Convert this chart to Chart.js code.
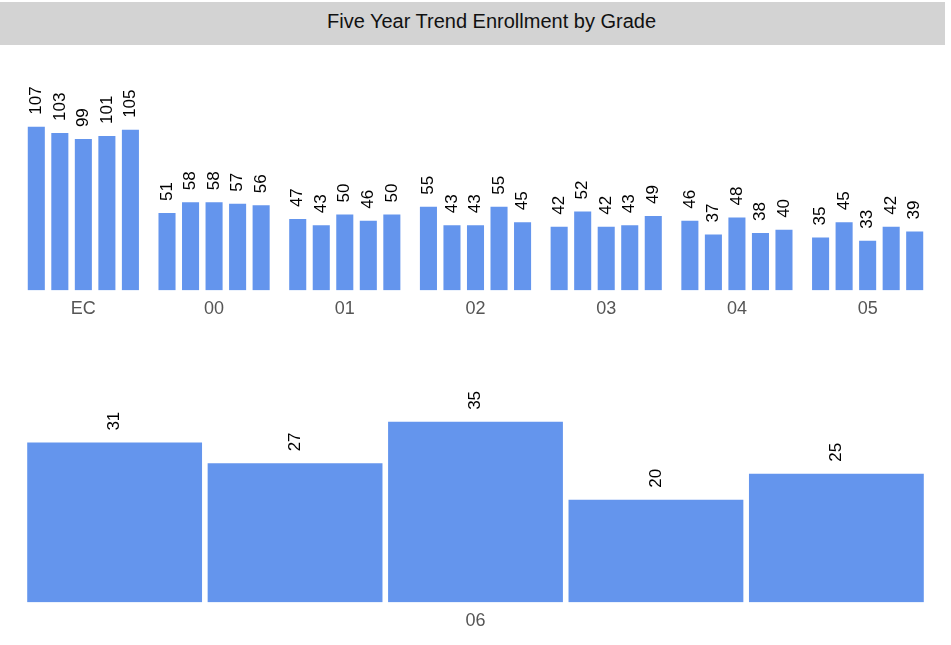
<!DOCTYPE html>
<html>
<head>
<meta charset="utf-8">
<script src="https://cdn.jsdelivr.net/npm/chart.js@4"></script>
<style>
  body { margin: 0; background: #fff; font-family: "Liberation Sans", Arial, sans-serif; }
  #titulo {
    position: absolute; top: 2px; left: 0; width: 945px; height: 43px;
    background: #d3d3d3; color: #111; font-size: 20px; line-height: 38px;
    text-align: center; box-sizing: border-box; padding-left: 38px;
  }
  .painel { position: absolute; left: 0; width: 951px; }
</style>
</head>
<body>
<div id="titulo">Five Year Trend Enrollment by Grade</div>
<div class="painel" style="top:50px;height:282px;"><canvas id="graficoTopo"></canvas></div>
<div class="painel" style="top:360px;height:285px;"><canvas id="graficoBase"></canvas></div>
<script>
// series (one per year, five years), grades in order
var grades = ['EC', '00', '01', '02', '03', '04', '05', '06'];
var year1 = [107, 51, 47, 55, 42, 46, 35, 31];
var year2 = [103, 58, 43, 43, 52, 37, 45, 27];
var year3 = [99, 58, 50, 43, 42, 48, 33, 35];
var year4 = [101, 57, 46, 55, 43, 38, 42, 20];
var year5 = [105, 56, 50, 45, 49, 40, 39, 25];
var yearNames = ['Year 1', 'Year 2', 'Year 3', 'Year 4', 'Year 5'];
var allYears = [year1, year2, year3, year4, year5];

var corBarra = '#6495ED';

// rotulos verticais acima das barras
var rotulos = {
    id: 'rotulos',
    afterDatasetsDraw: function (chart) {
        var ctx = chart.ctx;
        ctx.save();
        ctx.font = '17px "Liberation Sans", Arial, sans-serif';
        ctx.fillStyle = '#000';
        ctx.textAlign = 'left';
        ctx.textBaseline = 'middle';
        chart.data.datasets.forEach(function (ds, i) {
            chart.getDatasetMeta(i).data.forEach(function (bar, j) {
                ctx.save();
                ctx.translate(bar.x, bar.y - 11);
                ctx.rotate(-Math.PI / 2);
                ctx.fillText(ds.data[j], 0, 0);
                ctx.restore();
            });
        });
        ctx.restore();
    }
};

function montaDados(from, to, barPct, catPct) {
    return {
        labels: grades.slice(from, to),
        datasets: allYears.map(function (vals, i) {
            return {
                label: yearNames[i],
                data: vals.slice(from, to),
                backgroundColor: corBarra,
                borderColor: 'rgba(255,255,255,0.35)',
                borderWidth: 1,
                barPercentage: barPct,
                categoryPercentage: catPct
            };
        })
    };
}

function montaOpcoes(yMax, pad) {
    return {
        responsive: true,
        maintainAspectRatio: false,
        animation: false,
        layout: { padding: pad },
        plugins: { legend: { display: false }, tooltip: { enabled: false } },
        scales: {
            x: {
                grid: { display: false, drawTicks: false },
                border: { display: false },
                ticks: {
                    padding: 8,
                    color: '#555',
                    font: { size: 18, family: '"Liberation Sans", Arial, sans-serif' }
                }
            },
            y: { display: false, min: 0, max: yMax }
        }
    };
}

new Chart(document.querySelector('#graficoTopo').getContext('2d'), {
    type: 'bar',
    data: montaDados(0, 7, 0.81, 0.9),
    options: montaOpcoes(140, { left: 18, right: 18, top: 25, bottom: 4 }),
    plugins: [rotulos]
});

new Chart(document.querySelector('#graficoBase').getContext('2d'), {
    type: 'bar',
    data: montaDados(7, 8, 0.98, 0.986),
    options: montaOpcoes(45, { left: 18, right: 18, top: 9, bottom: 5 }),
    plugins: [rotulos]
});
</script>
</body>
</html>
